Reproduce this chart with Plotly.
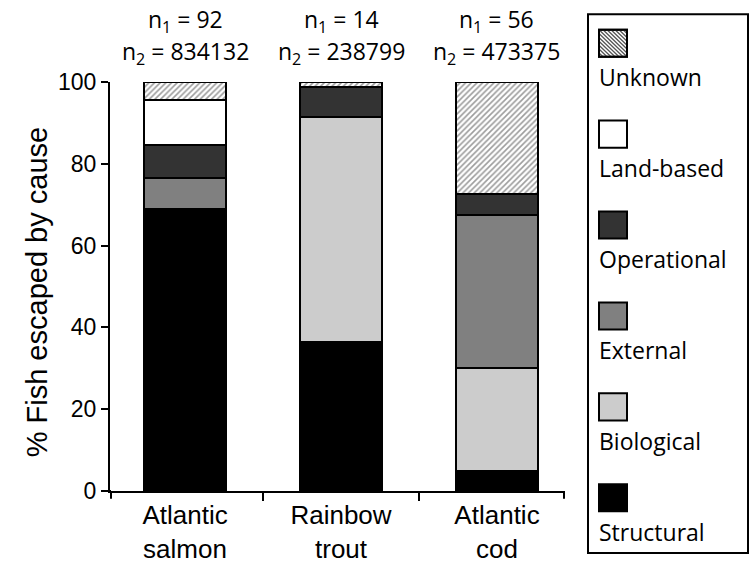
import plotly.graph_objects as go

species = ["Atlantic<br>salmon", "Rainbow<br>trout", "Atlantic<br>cod"]
n1 = [92, 14, 56]
n2 = [834132, 238799, 473375]

causes = ["Structural", "Biological", "External", "Operational", "Land-based", "Unknown"]
structural = [69.0, 36.5, 5.0]
biological = [0.0, 55.0, 25.0]
external = [7.5, 0.0, 37.5]
operational = [8.0, 7.3, 5.2]
land_based = [11.2, 0.0, 0.0]
unknown = [4.3, 1.2, 27.3]
series = [structural, biological, external, operational, land_based, unknown]

colors = {"Structural": "#000000", "Biological": "#cccccc", "External": "#808080",
          "Operational": "#333333", "Land-based": "#ffffff", "Unknown": "#ffffff"}

W_FIG, H_FIG = 750, 576
PX0, PX1, PY0, PY1 = 110, 565, 82, 504
L, R = PX0, W_FIG - PX1
T, B = PY0, H_FIG - PY1
PW = PX1 - PX0
PH = PY1 - PY0
def px(xp):
    return (xp - PX0) / PW
def py(yp):
    return (PY1 - yp) / PH

fig = go.Figure()
for name, vals in zip(causes, series):
    marker = dict(color=colors[name], line=dict(color="black", width=2))
    if name == "Unknown":
        marker["pattern"] = dict(shape="/", fgcolor="#3a3a3a", bgcolor="white", size=4, solidity=0.4)
    fig.add_trace(go.Bar(x=species, y=vals, name=name, marker=marker, width=0.53, showlegend=False))

fig.update_layout(
    barmode="stack",
    width=W_FIG, height=H_FIG,
    margin=dict(l=L, r=R, t=T, b=B),
    plot_bgcolor="white", paper_bgcolor="white",
    font=dict(family="Liberation Sans, Arial", color="black"),
    xaxis=dict(showline=True, linecolor="black", linewidth=2, ticks="outside", tickson="boundaries",
               ticklen=8, tickwidth=2, tickcolor="black", tickfont=dict(size=26, family="Liberation Sans, Arial"),
               range=[-0.481, 2.436]),
    yaxis=dict(range=[0, 100], tickvals=[0, 20, 40, 60, 80, 100], showline=True, linecolor="black",
               linewidth=2, ticks="outside", ticklen=7, tickwidth=2, tickcolor="black", showgrid=False,
               zeroline=False, tickfont=dict(size=23, family="Liberation Sans, Arial")),
)

fig.add_annotation(text="% Fish escaped by cause", xref="paper", yref="paper", x=px(37), y=py(299),
                   textangle=-90, showarrow=False, xanchor="center", yanchor="middle",
                   font=dict(size=29, family="Liberation Sans, Arial"))

for s, a, b in zip(species, n1, n2):
    fig.add_annotation(text=f"n<sub>1</sub> = {a}", xref="x", yref="paper", x=s, y=py(19),
                       showarrow=False, yanchor="middle", font=dict(size=23, family="Open Sans"))
    fig.add_annotation(text=f"n<sub>2</sub> = {b}", xref="x", yref="paper", x=s, y=py(52),
                       showarrow=False, yanchor="middle", font=dict(size=23, family="Open Sans"))

shapes = [dict(type="rect", xref="paper", yref="paper", x0=px(588), x1=px(748), y0=py(568), y1=py(12),
               line=dict(color="black", width=2), fillcolor="rgba(0,0,0,0)")]
# end ticks and slight left overhang of the x-axis line
shapes.append(dict(type="line", xref="paper", yref="paper", x0=px(103), x1=px(111), y0=0, y1=0,
                   line=dict(color="black", width=2)))
for xe in (111, 564):
    shapes.append(dict(type="line", xref="paper", yref="paper", x0=px(xe), x1=px(xe), y0=0, y1=py(512),
                       line=dict(color="black", width=2)))

legend_order = ["Unknown", "Land-based", "Operational", "External", "Biological", "Structural"]
sw = 28
for i, name in enumerate(legend_order):
    top = 28 + i * 93.8
    x0, x1 = 599, 599 + sw
    y0, y1 = top, top + sw
    shapes.append(dict(type="rect", xref="paper", yref="paper", x0=px(x0), x1=px(x1), y0=py(y1), y1=py(y0),
                       line=dict(color="black", width=2), fillcolor=colors[name], layer="above"))
    if name == "Unknown":
        step = 4
        path = ""
        k = step
        while k < 2 * sw:
            ax, ay = max(0, k - sw), min(k, sw)
            bx, by = min(k, sw), max(0, k - sw)
            path += f"M{px(x0 + ax)},{py(y1 - ay)} L{px(x0 + bx)},{py(y1 - by)} "
            k += step
        shapes.append(dict(type="path", xref="paper", yref="paper", path=path,
                           line=dict(color="#555555", width=1.3), layer="above"))
        shapes.append(dict(type="rect", xref="paper", yref="paper", x0=px(x0), x1=px(x1), y0=py(y1), y1=py(y0),
                           line=dict(color="black", width=2), fillcolor="rgba(0,0,0,0)", layer="above"))
    fig.add_annotation(text=name, xref="paper", yref="paper", x=px(597), y=py(top + 49),
                       xanchor="left", yanchor="middle", showarrow=False,
                       font=dict(size=23, family="Open Sans"))
fig.update_layout(shapes=shapes)

fig.write_html("out.html", config={"displayModeBar": False},
               post_script="document.body.style.margin='0';document.body.style.overflow='hidden';"
                           "document.documentElement.style.overflow='hidden';")
